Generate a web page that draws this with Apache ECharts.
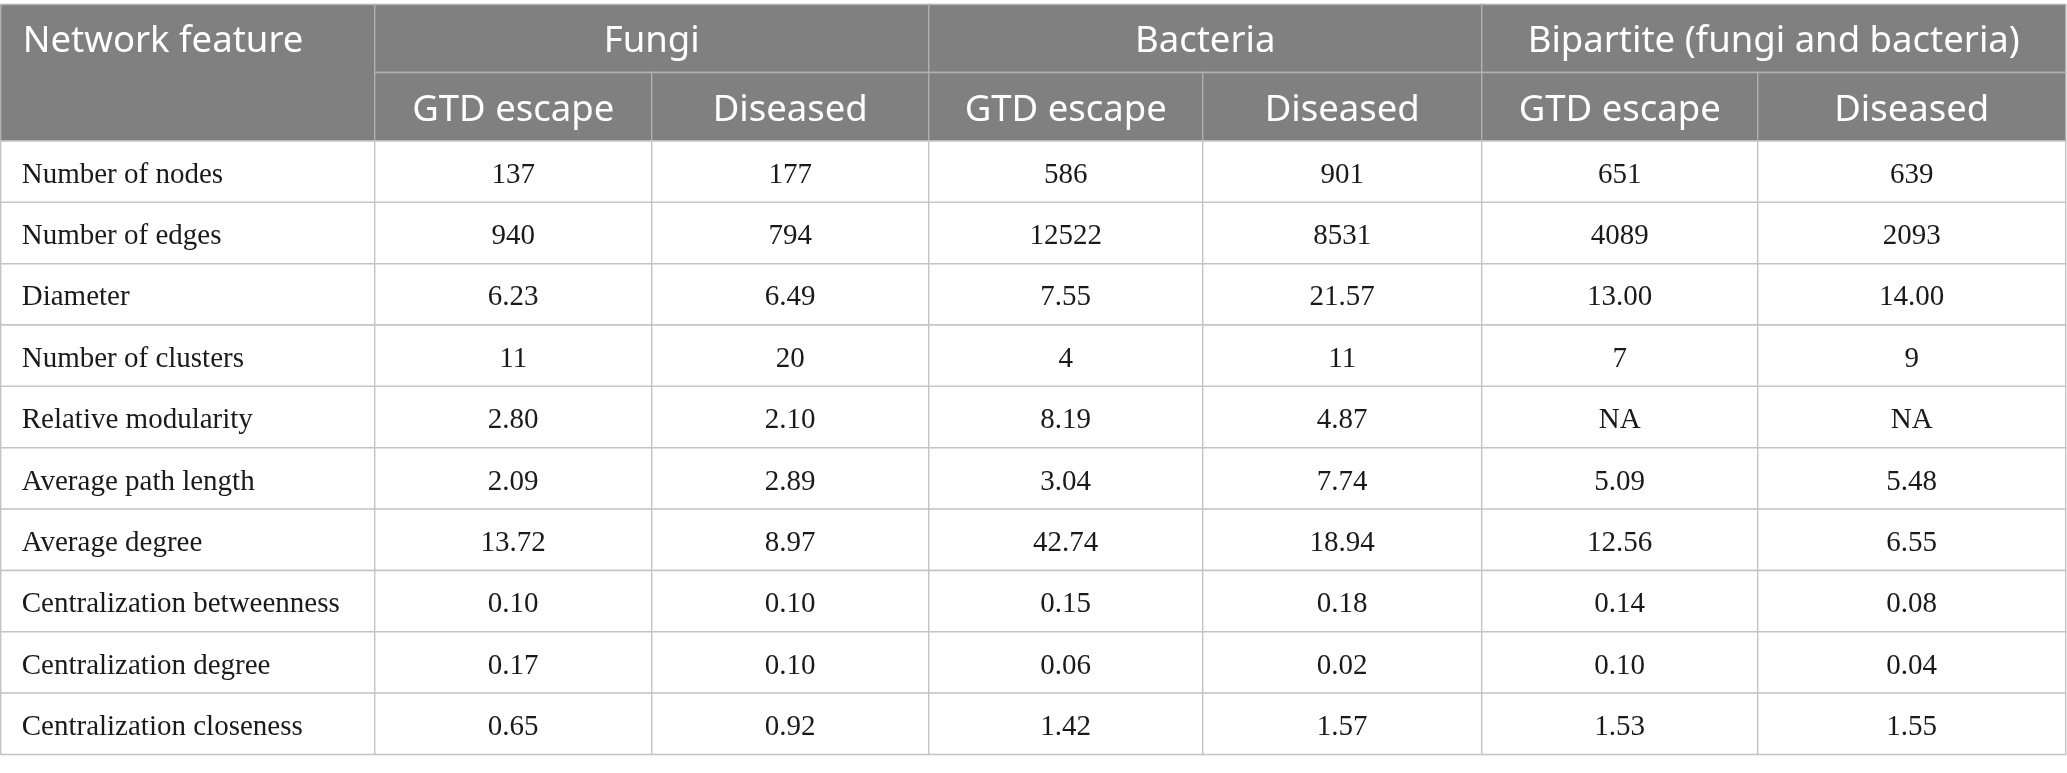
<!DOCTYPE html>
<html><head><meta charset="utf-8">
<script src="https://cdn.jsdelivr.net/npm/echarts@6/dist/echarts.min.js"></script>
<style>html,body{margin:0;padding:0;background:#fff}#c{width:2067px;height:773px}</style>
</head><body><div id="c"></div>
<script>
// ---- table content ----
const firstHeader = 'Network feature';
const groups = ['Fungi', 'Bacteria', 'Bipartite (fungi and bacteria)'];
const subHeaders = ['GTD escape', 'Diseased'];
const features = ['Number of nodes', 'Number of edges', 'Diameter', 'Number of clusters',
  'Relative modularity', 'Average path length', 'Average degree',
  'Centralization betweenness', 'Centralization degree', 'Centralization closeness'];
const fungiEscape    = ['137', '940', '6.23', '11', '2.80', '2.09', '13.72', '0.10', '0.17', '0.65'];
const fungiDiseased  = ['177', '794', '6.49', '20', '2.10', '2.89', '8.97', '0.10', '0.10', '0.92'];
const bactEscape     = ['586', '12522', '7.55', '4', '8.19', '3.04', '42.74', '0.15', '0.06', '1.42'];
const bactDiseased   = ['901', '8531', '21.57', '11', '4.87', '7.74', '18.94', '0.18', '0.02', '1.57'];
const bipEscape      = ['651', '4089', '13.00', '7', 'NA', '5.09', '12.56', '0.14', '0.10', '1.53'];
const bipDiseased    = ['639', '2093', '14.00', '9', 'NA', '5.48', '6.55', '0.08', '0.04', '1.55'];
const valueColumns = [fungiEscape, fungiDiseased, bactEscape, bactDiseased, bipEscape, bipDiseased];

// ---- layout (axis units) ----
const colEdges = [0, 374, 651, 928, 1202, 1481, 1757, 2065];
const headerEdges = [0, 68, 136.5];
const rowHeight = 61.35;
const rowEdges = features.map((_, i) => headerEdges[2] + i * rowHeight).concat([headerEdges[2] + features.length * rowHeight]);
const totalH = rowEdges[rowEdges.length - 1];

const cells = [];
// header
cells.push({v: [colEdges[0], colEdges[1], headerEdges[0], headerEdges[2]], text: firstHeader, kind: 'head', align: 'left', textRows: [headerEdges[0], headerEdges[1]]});
groups.forEach((g, gi) => {
  cells.push({v: [colEdges[1 + gi * 2], colEdges[3 + gi * 2], headerEdges[0], headerEdges[1]], text: g, kind: 'head', align: 'center'});
  subHeaders.forEach((s, si) => {
    cells.push({v: [colEdges[1 + gi * 2 + si], colEdges[2 + gi * 2 + si], headerEdges[1], headerEdges[2]], text: s, kind: 'head', align: 'center'});
  });
});
// body
features.forEach((f, r) => {
  cells.push({v: [colEdges[0], colEdges[1], rowEdges[r], rowEdges[r + 1]], text: f, kind: 'body', align: 'left'});
  valueColumns.forEach((col, ci) => {
    cells.push({v: [colEdges[ci + 1], colEdges[ci + 2], rowEdges[r], rowEdges[r + 1]], text: col[r], kind: 'body', align: 'center'});
  });
});

function renderItem(params, api) {
  const c = cells[params.dataIndex];
  const p0 = api.coord([api.value(0), api.value(2)]);
  const p1 = api.coord([api.value(1), api.value(3)]);
  const x = p0[0], y = p0[1], w = p1[0] - p0[0], h = p1[1] - p0[1];
  const head = c.kind === 'head';
  let ty = y + h / 2;
  if (c.textRows) {
    ty = (api.coord([0, c.textRows[0]])[1] + api.coord([0, c.textRows[1]])[1]) / 2;
  }
  const tx = c.align === 'left' ? x + (head ? 22 : 21) : x + w / 2;
  return {
    type: 'group',
    children: [
      {type: 'rect', shape: {x: x, y: y, width: w, height: h},
       style: {fill: head ? '#808080' : '#ffffff', stroke: head ? '#b0b0b0' : '#c4c4c4', lineWidth: 1.4}},
      {type: 'text', style: {
        text: c.text, x: tx, y: ty + 3.5, align: c.align, verticalAlign: 'middle',
        fontFamily: head ? '"Noto Sans", sans-serif' : '"Liberation Serif", serif',
        fontSize: head ? 36.5 : 29, fill: head ? '#ffffff' : '#1a1a1a'}}
    ]
  };
}

const chart = echarts.init(document.getElementById('c'), null, {renderer: 'canvas'});
chart.setOption({
  animation: false,
  backgroundColor: '#ffffff',
  grid: {left: 0.7, top: 4.5, width: colEdges[colEdges.length - 1], height: totalH},
  xAxis: {type: 'value', min: 0, max: colEdges[colEdges.length - 1], show: false},
  yAxis: {type: 'value', min: 0, max: totalH, inverse: true, show: false},
  series: [{
    type: 'custom',
    renderItem: renderItem,
    encode: {x: [0, 1], y: [2, 3]},
    data: cells.map(c => c.v),
    silent: true
  }]
});
</script>
</body></html>
